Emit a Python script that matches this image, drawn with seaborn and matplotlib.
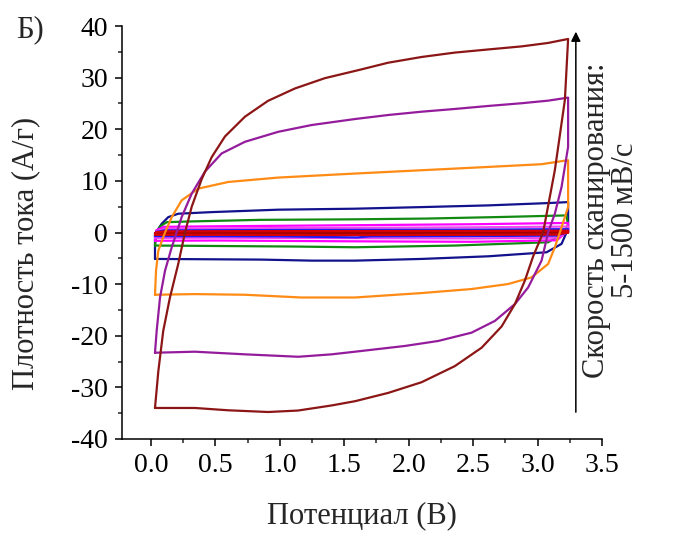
import numpy as np
import pandas as pd
import matplotlib
matplotlib.use("Agg")
import matplotlib.pyplot as plt
from matplotlib.ticker import MultipleLocator
import seaborn as sns

# ---- data (potential in V, current density in A/g) ----
wine_x = [0.031, 0.057, 0.095, 0.147, 0.212, 0.264, 0.316, 0.393, 0.471, 0.574, 0.729, 0.908, 1.117, 1.350,
          1.621, 1.839, 2.100, 2.358, 2.614, 2.876, 3.080, 3.237,
          3.212, 3.134, 3.043, 2.966, 2.901, 2.824, 2.721, 2.566, 2.358, 2.100, 1.841, 1.583, 1.402, 1.140,
          0.910, 0.600, 0.341, 0.031]
wine_y = [-33.99, -26.85, -19.07, -12.59, -6.03, 0.0, 5.00, 10.30, 14.60, 18.60, 22.43, 25.50, 27.90, 29.90,
          31.52, 32.88, 34.00, 34.85, 35.45, 36.05, 36.71, 37.49,
          25.68, 12.06, 0.0, -4.60, -9.34, -13.87, -18.20, -22.31, -25.88, -29.00, -31.07, -32.68, -33.50, -34.49,
          -34.77, -34.44, -33.99, -33.99]

purple_x = [0.031, 0.044, 0.070, 0.109, 0.161, 0.199, 0.238, 0.316, 0.419, 0.548, 0.729, 0.988, 1.247, 1.583,
            1.841, 2.100, 2.358, 2.617, 2.876, 3.082, 3.237,
            3.237, 3.186, 3.134, 3.082, 3.031, 2.927, 2.824, 2.669, 2.488, 2.229, 1.970, 1.583, 1.402, 1.143,
            0.729, 0.341, 0.031]
purple_y = [-23.29, -19.07, -12.59, -7.39, -2.86, 0.0, 2.98, 7.53, 11.80, 15.31, 17.57, 19.51, 20.82, 21.98,
            22.76, 23.40, 23.93, 24.51, 25.04, 25.54, 26.13,
            16.60, 8.81, 3.64, 0.0, -5.45, -10.64, -13.87, -17.12, -19.40, -21.01, -21.98, -23.09, -23.60, -24.07,
            -23.60, -23.09, -23.29]

orange_x = [0.031, 0.039, 0.057, 0.095, 0.109, 0.161, 0.238, 0.367, 0.600, 0.988, 1.583, 2.100, 2.617, 3.031,
            3.237,
            3.237, 3.173, 3.134, 3.082, 2.953, 2.772, 2.488, 2.100, 1.583, 1.169, 0.729, 0.341, 0.031]
orange_y = [-12.06, -7.39, -3.50, -0.91, 0.0, 2.98, 6.23, 8.50, 9.79, 10.64, 11.42, 12.06, 12.70, 13.23,
            14.01,
            4.92, 0.0, -2.86, -6.09, -8.70, -9.98, -10.95, -11.73, -12.59, -12.59, -12.06, -11.93, -12.06]

navy_x = [0.031, 0.031, 0.083, 0.134, 0.212, 0.471, 0.988, 1.583, 2.100, 2.617, 3.082, 3.237,
          3.237, 3.186, 3.070, 2.617, 2.100, 1.583, 1.247, 0.859, 0.031]
navy_y = [-5.12, -0.25, 1.69, 2.98, 3.64, 3.95, 4.42, 4.61, 4.92, 5.25, 5.70, 5.89,
          0.72, -2.20, -3.83, -4.61, -5.12, -5.45, -5.45, -5.25, -5.12]

green_x = [0.031, 0.044, 0.070, 0.122, 0.303, 0.846, 1.567, 2.139, 2.710, 3.225,
           3.235, 3.199, 3.082, 2.358, 1.583, 1.117, 0.031]
green_y = [-2.53, -0.25, 1.17, 2.00, 2.14, 2.45, 2.55, 2.70, 3.00, 3.31,
           1.36, -0.25, -1.89, -2.53, -2.86, -2.72, -2.53]

magenta_x = [0.031, 0.040, 0.100, 0.500, 1.500, 2.500, 3.237, 3.237, 3.150, 2.500, 1.500, 0.500, 0.031]
magenta_y = [-1.60, 0.40, 1.10, 1.20, 1.40, 1.60, 1.85, 0.40, -1.50, -1.80, -1.70, -1.55, -1.60]

pink_x = [0.031, 0.040, 0.100, 0.500, 1.500, 2.500, 3.237, 3.237, 3.150, 2.500, 1.500, 0.500, 0.031]
pink_y = [-1.05, 0.20, 0.70, 0.80, 0.90, 1.00, 1.15, 0.20, -1.00, -1.15, -1.10, -1.00, -1.05]

blue_x = [0.031, 0.040, 0.100, 0.500, 1.500, 2.500, 3.237, 3.237, 3.150, 2.500, 1.700, 1.600, 1.000, 0.031]
blue_y = [-0.70, 0.10, 0.40, 0.45, 0.50, 0.55, 0.65, 0.10, -0.60, -0.70, -0.75, -0.95, -0.75, -0.70]

red_x = [0.031, 0.040, 0.100, 0.500, 1.500, 2.500, 3.237, 3.237, 3.150, 2.500, 1.500, 0.500, 0.031]
red_y = [-0.45, 0.05, 0.22, 0.25, 0.28, 0.30, 0.35, 0.00, -0.40, -0.45, -0.50, -0.45, -0.45]

dark_x = [0.031, 0.100, 1.000, 2.000, 3.237, 3.237, 2.500, 1.000, 0.031]
dark_y = [-0.15, 0.05, 0.05, 0.08, 0.10, -0.05, -0.10, -0.15, -0.15]

curve_names = ["navy", "green", "magenta", "pink", "blue", "dark", "red", "orange", "purple", "wine"]
curve_colors = ["#12128c", "#128a12", "#ff00ff", "#f048f0", "#1a1aff", "#a00000", "#d80000",
                "#ff8a14", "#941c9c", "#8c1616"]

xticks = [0.0, 0.5, 1.0, 1.5, 2.0, 2.5, 3.0, 3.5]
yticks = [-40, -30, -20, -10, 0, 10, 20, 30, 40]

series = {
    "navy": (navy_x, navy_y), "green": (green_x, green_y), "magenta": (magenta_x, magenta_y),
    "pink": (pink_x, pink_y), "blue": (blue_x, blue_y), "red": (red_x, red_y), "dark": (dark_x, dark_y),
    "orange": (orange_x, orange_y), "purple": (purple_x, purple_y), "wine": (wine_x, wine_y),
}
rows = []
for name in curve_names:
    xs, ys = series[name]
    for i, (a, b) in enumerate(zip(xs, ys)):
        rows.append({"curve": name, "order": i, "E": a, "j": b})
df = pd.DataFrame(rows)

# ---- style ----
sns.set_theme(style="ticks")
plt.rcParams["font.family"] = ["Liberation Serif", "DejaVu Serif"]
plt.rcParams["axes.unicode_minus"] = False
plt.rcParams["lines.solid_joinstyle"] = "round"

fig = plt.figure(figsize=(6.73, 5.33), dpi=100)
ax = fig.add_axes([122 / 673, 1 - 439 / 533, 480 / 673, 413 / 533])

sns.lineplot(data=df, x="E", y="j", hue="curve", hue_order=curve_names,
             palette=dict(zip(curve_names, curve_colors)), sort=False, estimator=None,
             linewidth=1.6, legend=False, ax=ax)

ax.set_xlim(-0.225, 3.5)
ax.set_ylim(-40, 40)
ax.set_xticks(xticks)
ax.set_xticklabels([f"{v:.1f}" for v in xticks])
ax.set_yticks(yticks)
ax.set_yticklabels([str(v) for v in yticks])
ax.xaxis.set_minor_locator(MultipleLocator(0.25))
ax.yaxis.set_minor_locator(MultipleLocator(5))
ax.tick_params(which="major", direction="out", length=5, width=1.1, labelsize=20, pad=5, colors="black")
ax.tick_params(which="minor", direction="out", length=3, width=1.1)
for s in ["top", "right"]:
    ax.spines[s].set_visible(False)
for s in ["left", "bottom"]:
    ax.spines[s].set_linewidth(1.1)
    ax.spines[s].set_color("black")

ax.set_xlabel("Потенциал (В)", fontsize=22)
ax.set_ylabel("Плотность тока (А/г)", fontsize=22)
ax.xaxis.set_label_coords(0.5, -0.15)
ax.yaxis.set_label_coords(-0.17, 0.45)

# arrow indicating scan rate increase
ax.annotate("", xy=(3.297, 38.9), xytext=(3.297, -34.8),
            arrowprops=dict(arrowstyle="-|>", color="black", lw=1.1, mutation_scale=14,
                            shrinkA=0, shrinkB=0),
            annotation_clip=False)
fig.text(611 / 673, 1 - 220 / 533, "Скорость сканирования:\n5-1500 мВ/с", rotation=90,
         ha="center", va="center", multialignment="center", fontsize=22, linespacing=1.0)
fig.text(16 / 673, 1 - 30 / 533, "Б)", ha="left", va="center", fontsize=22)

fig.savefig("out.png", dpi=100, facecolor="white")
